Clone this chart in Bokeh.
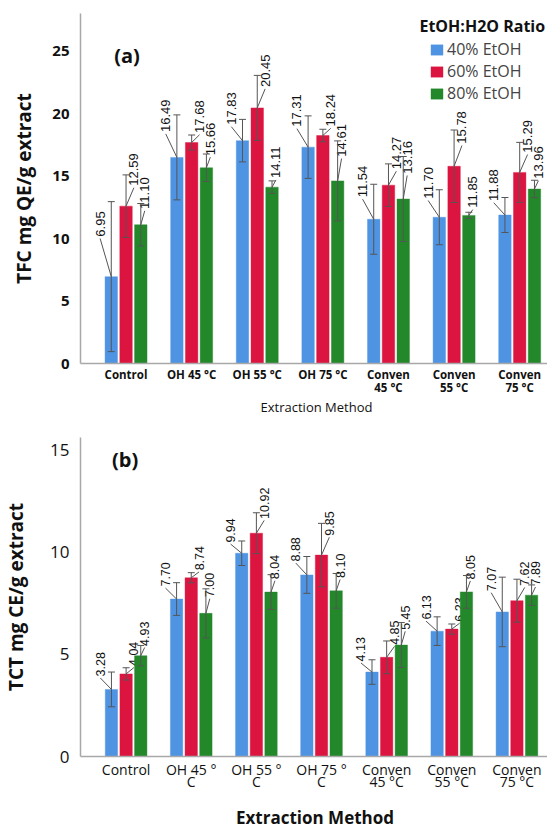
import numpy as np
from bokeh.plotting import figure
from bokeh.models import (ColumnDataSource, Whisker, TeeHead, Legend, LegendItem,
                          Label, FixedTicker, Range1d)
from bokeh.layouts import column
from bokeh.embed import file_html
from bokeh.resources import INLINE
from bokeh.core.properties import value

# ---------------- data ----------------
series = ["40% EtOH", "60% EtOH", "80% EtOH"]
methods_a = ["Control", "OH 45 °C", "OH 55 °C", "OH 75 °C",
             "Conven\n45 °C", "Conven\n55 °C", "Conven\n75 °C"]
methods_b = ["Control", "OH 45 °\nC", "OH 55 °\nC", "OH 75 °\nC",
             "Conven\n45 °C", "Conven\n55 °C", "Conven\n75 °C"]

tfc_40 = [6.95, 16.49, 17.83, 17.31, 11.54, 11.70, 11.88]
tfc_60 = [12.59, 17.68, 20.45, 18.24, 14.27, 15.78, 15.29]
tfc_80 = [11.10, 15.66, 14.11, 14.61, 13.16, 11.85, 13.96]
tfc_40_err = [6.0, 3.4, 1.7, 2.5, 2.8, 2.2, 1.4]
tfc_60_err = [2.5, 0.6, 2.6, 0.5, 1.7, 2.9, 2.4]
tfc_80_err = [1.7, 1.1, 0.5, 3.2, 3.4, 0.25, 0.7]

tct_40 = [3.28, 7.70, 9.94, 8.88, 4.13, 6.13, 7.07]
tct_60 = [4.04, 8.74, 10.92, 9.85, 4.85, 6.23, 7.62]
tct_80 = [4.93, 7.00, 8.04, 8.10, 5.45, 8.05, 7.89]
tct_40_err = [0.85, 0.8, 0.6, 0.9, 0.6, 0.7, 1.7]
tct_60_err = [0.3, 0.25, 1.0, 1.55, 0.8, 0.25, 1.05]
tct_80_err = [0.5, 1.2, 0.85, 0.85, 1.1, 0.8, 0.5]

yticks_a = [0, 5, 10, 15, 20, 25]
yticks_b = [0, 5, 10, 15]

COLORS = ["#4f94e3", "#dc1440", "#23882a"]
FONT = "Open Sans"
ERR = "#555555"


def make_panel(tick_labels, vals, errs, ymax, yticks, fw, fh, xr, border,
               tick_style, ytick_size, xtick_size, xtick_lh, xlab_style,
               xlab_size, xlab_standoff, ylab_standoff, ylabel, panel_tag,
               tag_pos, label_pad, num_size, legend=False):
    p = figure(frame_width=fw, frame_height=fh, x_range=Range1d(xr[0], xr[1]),
               y_range=Range1d(0, ymax), output_backend="svg",
               toolbar_location=None, min_border_left=border[0],
               min_border_right=0, min_border_top=border[1],
               min_border_bottom=border[2])
    p.outline_line_color = None
    p.xgrid.visible = False
    p.ygrid.visible = False
    x = np.arange(len(tick_labels))
    offsets = [-0.225, 0.0, 0.225]
    label_dx = [-0.17, 0.12, 0.06]
    rends = []
    for k in range(3):
        v = np.array(vals[k], dtype=float)
        e = np.array(errs[k], dtype=float)
        bx = x + offsets[k]
        lx = bx + label_dx[k]
        ly = v + 0.45 * e + label_pad
        src = ColumnDataSource(dict(
            x=bx, top=v, lower=v - e, upper=v + e, lx=lx, ly=ly,
            ly0=ly - label_pad * 0.3, txt=["%.2f" % t for t in v]))
        r = p.vbar(x="x", top="top", width=0.19, bottom=0, source=src,
                   fill_color=COLORS[k], line_color=COLORS[k], line_alpha=0.4)
        rends.append(r)
        w = Whisker(base="x", upper="upper", lower="lower", source=src,
                    line_color=ERR, line_width=1, level="annotation",
                    upper_head=TeeHead(size=7, line_color=ERR, line_width=1),
                    lower_head=TeeHead(size=7, line_color=ERR, line_width=1))
        p.add_layout(w)
        p.segment(x0="lx", y0="ly0", x1="x", y1="top", source=src,
                  line_color=ERR, line_width=1)
        p.text(x="lx", y="ly", text="txt", source=src, angle=np.pi / 2,
               text_align="left", text_baseline="middle",
               text_font=value("Liberation Sans"), text_font_size=num_size,
               text_color="#111111")

    p.xaxis.ticker = FixedTicker(ticks=list(range(len(tick_labels))))
    p.xaxis.major_label_overrides = {i: t for i, t in enumerate(tick_labels)}
    p.yaxis.ticker = FixedTicker(ticks=yticks)
    for ax in (p.xaxis[0], p.yaxis[0]):
        ax.axis_line_color = "#a8a8a8"
        ax.axis_line_width = 1.5
        ax.major_tick_line_color = None
        ax.minor_tick_line_color = None
        ax.major_label_text_font = FONT
        ax.major_label_text_color = "#111111"
        ax.axis_label_text_font = FONT
        ax.axis_label_text_color = "#111111"
    p.yaxis.major_label_text_font_style = tick_style[0]
    p.yaxis.major_label_text_font_size = ytick_size
    p.xaxis.major_label_text_font_style = tick_style[1]
    p.xaxis.major_label_text_font_size = xtick_size
    p.xaxis.major_label_text_line_height = xtick_lh
    p.xaxis.major_label_standoff = -3
    p.yaxis.major_label_standoff = 5
    p.xaxis.axis_label = "Extraction Method"
    p.xaxis.axis_label_text_font_style = xlab_style
    p.xaxis.axis_label_text_font_size = xlab_size
    p.xaxis.axis_label_standoff = xlab_standoff
    p.yaxis.axis_label = ylabel
    p.yaxis.axis_label_text_font_style = "bold"
    p.yaxis.axis_label_text_font_size = "19px"
    p.yaxis.axis_label_standoff = ylab_standoff

    p.add_layout(Label(x=tag_pos[0], y=tag_pos[1], text=panel_tag,
                       text_font=FONT, text_font_style="bold",
                       text_font_size="20px", text_align="center",
                       text_baseline="middle", text_color="#111111"))

    if legend:
        p.add_layout(Label(x=5.43, y=27.0, text="EtOH:H2O Ratio",
                           text_font=FONT, text_font_style="bold",
                           text_font_size="16px", text_align="center",
                           text_baseline="middle", text_color="#111111"))
        lg = Legend(items=[LegendItem(label=series[k], renderers=[rends[k]])
                           for k in range(3)],
                    location=(356, 259),
                    label_text_font=FONT, label_text_font_size="16px",
                    glyph_width=15, glyph_height=13, spacing=0, padding=2,
                    margin=0, label_standoff=3, label_height=20,
                    border_line_color=None, background_fill_alpha=0)
        p.add_layout(lg)
    return p


p1 = make_panel(methods_a, [tfc_40, tfc_60, tfc_80],
                [tfc_40_err, tfc_60_err, tfc_80_err], 28, yticks_a, 472, 350,
                (-0.694, 6.5), (75, 13, 50), ("bold", "bold"), "15px", "11.5px",
                0.9, "normal", "13px", 0, 12, "TFC mg QE/g extract", "(a)",
                (0.014, 24.64), 0.5, "13px", legend=True)
p2 = make_panel(methods_b, [tct_40, tct_60, tct_80],
                [tct_40_err, tct_60_err, tct_80_err], 15.6, yticks_b, 469, 319,
                (-0.70, 6.5), (78, 18, 50), ("normal", "normal"), "17px",
                "14px", 0.65, "bold", "17px", 12, 18, "TCT mg CE/g extract",
                "(b)", (-0.016, 14.5), 0.25, "12.5px")

layout = column(p1, p2, spacing=0)
open("out.html", "w").write(file_html(layout, INLINE))
